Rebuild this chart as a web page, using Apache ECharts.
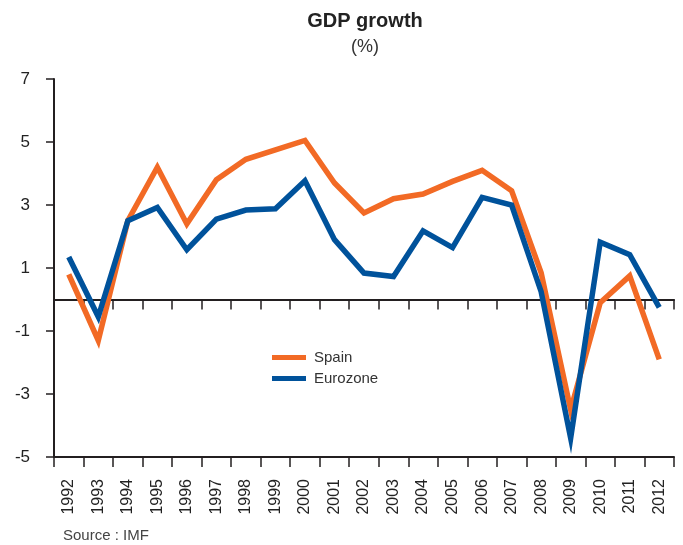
<!DOCTYPE html>
<html>
<head>
<meta charset="utf-8">
<title>GDP growth</title>
<script src="https://cdn.jsdelivr.net/npm/echarts@6/dist/echarts.min.js"></script>
<style>
  html, body { margin: 0; padding: 0; background: #fff; }
  #chart { width: 683px; height: 545px; }
</style>
</head>
<body>
<div id="chart"></div>
<script>
var years = ['1992', '1993', '1994', '1995', '1996', '1997', '1998', '1999', '2000', '2001', '2002',
  '2003', '2004', '2005', '2006', '2007', '2008', '2009', '2010', '2011', '2012']
var spain = [0.8, -1.3, 2.5, 4.2, 2.4, 3.8, 4.45, 4.75, 5.05, 3.7, 2.75,
  3.2, 3.35, 3.75, 4.1, 3.45, 0.85, -3.5, -0.1, 0.75, -1.9]
var eurozone = [1.35, -0.55, 2.5, 2.92, 1.58, 2.55, 2.84, 2.88, 3.77, 1.9, 0.84,
  0.73, 2.18, 1.65, 3.24, 3.0, 0.25, -4.4, 1.82, 1.42, -0.25]

var font = 'Liberation Sans, Arial, sans-serif'
var ink = '#231f20'

var chart = echarts.init(document.getElementById('chart'))

var option = {
  animation: false,
  textStyle: { fontFamily: font },
  graphic: [
    { type: 'text', x: 365, y: 11, style: { text: 'GDP growth', align: 'center', font: 'bold 20px ' + font, fill: '#222' } },
    { type: 'text', x: 365, y: 38, style: { text: '(%)', align: 'center', font: '18px ' + font, fill: '#333' } },
    { type: 'text', x: 63, y: 528, style: { text: 'Source : IMF', font: '15px ' + font, fill: '#444' } }
  ],
  legend: {
    orient: 'vertical',
    left: 267,
    top: 345,
    icon: 'rect',
    itemWidth: 34,
    itemHeight: 5,
    itemGap: 6,
    textStyle: { fontSize: 15, color: '#333', padding: [0, 0, 0, 3] },
    data: ['Spain', 'Eurozone']
  },
  grid: { left: 54, right: 9, top: 79, bottom: 88, containLabel: false },
  xAxis: [
    {
      type: 'category',
      data: years,
      position: 'bottom',
      boundaryGap: true,
      axisLine: { onZero: false, lineStyle: { color: ink, width: 2 } },
      axisTick: { show: true, length: 10, interval: 0, lineStyle: { color: ink, width: 1.5 } },
      axisLabel: { rotate: 90, interval: 0, margin: 22, fontSize: 16, color: '#222' }
    },
    {
      type: 'category',
      data: years,
      position: 'top',
      boundaryGap: true,
      axisLine: { onZero: true, lineStyle: { color: ink, width: 2 } },
      axisTick: { show: true, inside: true, length: 10, interval: 0, lineStyle: { color: ink, width: 1.5 } },
      axisLabel: { show: false }
    }
  ],
  yAxis: {
    type: 'value',
    min: -5,
    max: 7,
    interval: 2,
    axisLine: { show: true, onZero: false, lineStyle: { color: ink, width: 2 } },
    axisTick: { show: true, length: 8, lineStyle: { color: ink, width: 1.5 } },
    axisLabel: { margin: 24, fontSize: 17, color: '#222' },
    splitLine: { show: false }
  },
  series: [
    {
      name: 'Spain',
      type: 'line',
      data: spain,
      symbol: 'none',
      color: '#f26a25',
      lineStyle: { width: 5.5, color: '#f26a25', join: 'miter' }
    },
    {
      name: 'Eurozone',
      type: 'line',
      data: eurozone,
      symbol: 'none',
      color: '#00529b',
      lineStyle: { width: 5.5, color: '#00529b', join: 'miter' }
    }
  ]
}

chart.setOption(option)
</script>
</body>
</html>
